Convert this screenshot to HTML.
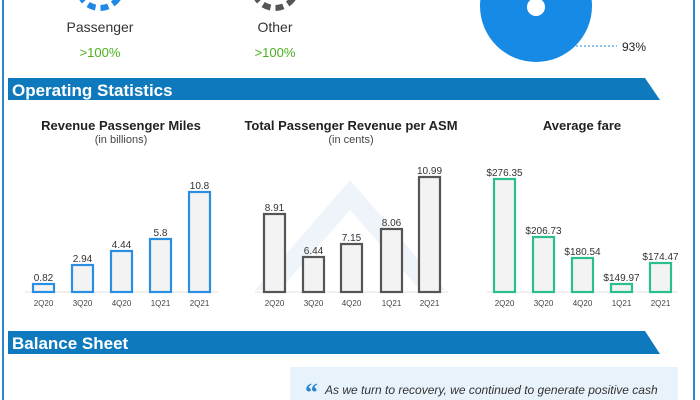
<!DOCTYPE html>
<html><head><meta charset="utf-8"><style>
body{margin:0;width:700px;height:400px;overflow:hidden;background:#fff}
svg{display:block;font-family:"Liberation Sans",sans-serif}
</style></head><body>
<svg width="700" height="400" viewBox="0 0 700 400">
<rect x="0" y="-5" width="700" height="410" fill="#fff"/>
<line x1="3" y1="0" x2="3" y2="400" stroke="#2a86cf" stroke-width="2"/>
<line x1="694" y1="0" x2="694" y2="400" stroke="#2a86cf" stroke-width="2"/>
<circle cx="100" cy="-14" r="22" fill="none" stroke="#1f8ae6" stroke-width="6" stroke-dasharray="8 5"/>
<circle cx="275" cy="-14" r="22" fill="none" stroke="#555" stroke-width="6" stroke-dasharray="8 5"/>
<g font-size="14" fill="#333" text-anchor="middle">
<text x="100" y="32">Passenger</text><text x="275" y="32">Other</text></g>
<g font-size="13" fill="#4caf1e" text-anchor="middle">
<text x="100" y="57">&gt;100%</text><text x="275" y="57">&gt;100%</text></g>
<circle cx="536" cy="6" r="56" fill="#178ae6"/>
<ellipse cx="536" cy="7" rx="9" ry="9" fill="#fff"/>
<line x1="576" y1="46" x2="617" y2="46" stroke="#178ae6" stroke-dasharray="2 2"/>
<text x="622" y="51" font-size="12" fill="#222">93%</text>
<polygon points="8,78 645,78 660,100 8,100" fill="#0f79bd"/>
<text x="12" y="96" font-size="17" font-weight="bold" fill="#fff">Operating Statistics</text>
<polygon points="8,331 645,331 660,354 8,354" fill="#0f79bd"/>
<text x="12" y="349" font-size="17" font-weight="bold" fill="#fff">Balance Sheet</text>
<polygon points="255,290 350,180 445,290 420,290 350,210 280,290" fill="#eef4fa"/>
<g text-anchor="middle" fill="#222">
<text x="121" y="130" font-size="13" font-weight="bold">Revenue Passenger Miles</text>
<text x="121" y="143" font-size="11" fill="#444">(in billions)</text>
<text x="351" y="130" font-size="13" font-weight="bold">Total Passenger Revenue per ASM</text>
<text x="351" y="143" font-size="11" fill="#444">(in cents)</text>
<text x="582" y="130" font-size="13" font-weight="bold">Average fare</text>
</g>
<g stroke="#e0e0e0"><line x1="25" y1="292" x2="218" y2="292"/><line x1="255" y1="292" x2="448" y2="292"/><line x1="487" y1="292" x2="678" y2="292"/></g>
<g fill="#f3f3f3" stroke-width="2.2">
<g stroke="#2a8fe0">
<rect x="33" y="284" width="21" height="8"/><rect x="72" y="265" width="21" height="27"/><rect x="111" y="251" width="21" height="41"/><rect x="150" y="239" width="21" height="53"/><rect x="189" y="192" width="21" height="100"/></g>
<g stroke="#555">
<rect x="264" y="214" width="21" height="78"/><rect x="303" y="257" width="21" height="35"/><rect x="341" y="244" width="21" height="48"/><rect x="381" y="229" width="21" height="63"/><rect x="419" y="177" width="21" height="115"/></g>
<g stroke="#2bbf8c">
<rect x="494" y="179" width="21" height="113"/><rect x="533" y="237" width="21" height="55"/><rect x="572" y="258" width="21" height="34"/><rect x="611" y="284" width="21" height="8"/><rect x="650" y="263" width="21" height="29"/></g>
</g>
<g font-size="10" fill="#333" text-anchor="middle">
<text x="43.5" y="281">0.82</text><text x="82.5" y="262">2.94</text><text x="121.5" y="248">4.44</text><text x="160.5" y="236">5.8</text><text x="199.5" y="189">10.8</text>
<text x="274.5" y="211">8.91</text><text x="313.5" y="254">6.44</text><text x="351.5" y="241">7.15</text><text x="391.5" y="226">8.06</text><text x="429.5" y="174">10.99</text>
<text x="504.5" y="176">$276.35</text><text x="543.5" y="234">$206.73</text><text x="582.5" y="255">$180.54</text><text x="621.5" y="281">$149.97</text><text x="660.5" y="260">$174.47</text>
</g>
<g font-size="8" fill="#444" text-anchor="middle">
<text x="43.5" y="306">2Q20</text><text x="82.5" y="306">3Q20</text><text x="121.5" y="306">4Q20</text><text x="160.5" y="306">1Q21</text><text x="199.5" y="306">2Q21</text>
<text x="274.5" y="306">2Q20</text><text x="313.5" y="306">3Q20</text><text x="351.5" y="306">4Q20</text><text x="391.5" y="306">1Q21</text><text x="429.5" y="306">2Q21</text>
<text x="504.5" y="306">2Q20</text><text x="543.5" y="306">3Q20</text><text x="582.5" y="306">4Q20</text><text x="621.5" y="306">1Q21</text><text x="660.5" y="306">2Q21</text>
</g>
<rect x="290" y="367" width="388" height="40" fill="#e8f2fa"/>
<text x="305" y="401" font-size="26" fill="#2a86cf" font-family="Liberation Serif" font-weight="bold">“</text>
<text x="325" y="394" font-size="12" font-style="italic" fill="#333">As we turn to recovery, we continued to generate positive cash</text>
</svg>
</body></html>
